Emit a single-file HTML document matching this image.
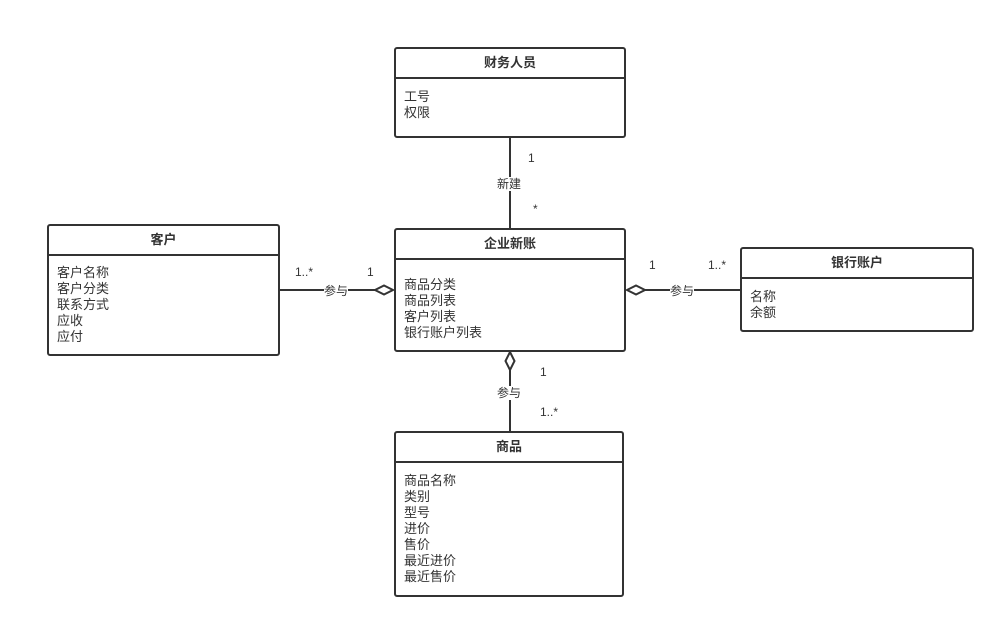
<!DOCTYPE html>
<html><head><meta charset="utf-8"><style>
body{margin:0;width:1004px;height:627px;background:#fff;position:relative;overflow:hidden;font-family:"Liberation Sans","Noto Sans CJK SC",sans-serif;color:#333}
.b{position:absolute;border:2px solid #333;border-radius:3px;box-sizing:border-box;background:#fff}
.h{border-bottom:2px solid #333;height:30px;box-sizing:border-box;text-align:center;font-weight:bold;font-size:13px;line-height:28px}
.a{font-size:13px;line-height:16px;padding-left:8px}
.t{position:absolute;font-size:12px;background:#fff;line-height:14px}
</style></head><body>
<svg width="1004" height="627" style="position:absolute;left:0;top:0">
<g stroke="#333" stroke-width="2" fill="#fff">
<line x1="510" y1="137" x2="510" y2="229"/>
<line x1="279" y1="290" x2="393" y2="290"/>
<polygon points="375,290 384,285.5 393,290 384,294.5"/>
<line x1="627" y1="290" x2="741" y2="290"/>
<polygon points="627,290 636,285.5 645,290 636,294.5"/>
<line x1="510" y1="352" x2="510" y2="432"/>
<polygon points="510,352 514.5,361 510,370 505.5,361"/>
</g></svg>
<div class="b" style="left:394px;top:47px;width:232px;height:91px"><div class="h">财务人员</div><div class="a" style="padding-top:10px">工号<br>权限</div></div>
<div class="b" style="left:394px;top:228px;width:232px;height:124px"><div class="h">企业新账</div><div class="a" style="padding-top:17px">商品分类<br>商品列表<br>客户列表<br>银行账户列表</div></div>
<div class="b" style="left:47px;top:224px;width:233px;height:132px"><div class="h">客户</div><div class="a" style="padding-top:9px">客户名称<br>客户分类<br>联系方式<br>应收<br>应付</div></div>
<div class="b" style="left:740px;top:247px;width:234px;height:85px"><div class="h">银行账户</div><div class="a" style="padding-top:10px">名称<br>余额</div></div>
<div class="b" style="left:394px;top:431px;width:230px;height:166px"><div class="h">商品</div><div class="a" style="padding-top:10px">商品名称<br>类别<br>型号<br>进价<br>售价<br>最近进价<br>最近售价</div></div>
<div class="t" style="left:497px;top:177px">新建</div>
<div class="t" style="left:528px;top:151px">1</div>
<div class="t" style="left:533px;top:202px">*</div>
<div class="t" style="left:324px;top:284px">参与</div>
<div class="t" style="left:295px;top:265px">1..*</div>
<div class="t" style="left:367px;top:265px">1</div>
<div class="t" style="left:670px;top:284px">参与</div>
<div class="t" style="left:649px;top:258px">1</div>
<div class="t" style="left:708px;top:258px">1..*</div>
<div class="t" style="left:497px;top:386px">参与</div>
<div class="t" style="left:540px;top:365px">1</div>
<div class="t" style="left:540px;top:405px">1..*</div>
</body></html>
